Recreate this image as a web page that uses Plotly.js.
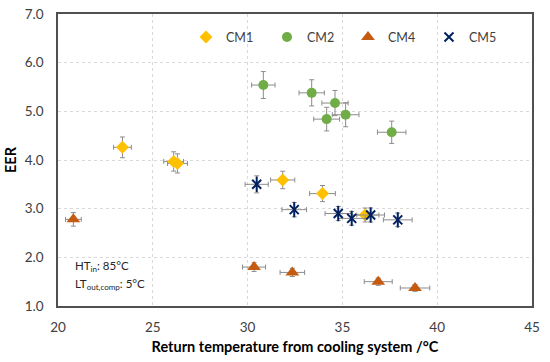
<!DOCTYPE html>
<html>
<head>
<meta charset="utf-8">
<script src="https://cdn.plot.ly/plotly-3.0.1.min.js"></script>
<style>html,body{margin:0;padding:0;background:#fff;}#chart{width:550px;height:362px;}</style>
</head>
<body>
<div id="chart"></div>
<script>
// Series: return temperature (°C) and EER
const cm1X = [23.4, 26.1, 26.3, 31.85, 33.95, 36.2];
const cm1Y = [4.26, 3.97, 3.93, 3.59, 3.31, 2.87];
const cm2X = [30.83, 33.38, 34.61, 34.17, 35.17, 37.6];
const cm2Y = [5.54, 5.38, 5.17, 4.84, 4.93, 4.57];
const cm4X = [20.81, 30.34, 32.36, 36.89, 38.83];
const cm4Y = [2.78, 1.80, 1.69, 1.50, 1.37];
const cm5X = [30.48, 32.46, 34.78, 35.49, 36.49, 37.92];
const cm5Y = [3.50, 2.98, 2.90, 2.80, 2.87, 2.77];
const seriesNames = ["CM1", "CM2", "CM4", "CM5"];
const xTicks = [20, 25, 30, 35, 40, 45];
const yTicks = [1, 2, 3, 4, 5, 6, 7];

const FONT = "Lato, 'Open Sans', sans-serif";
const errX = {type: "percent", value: 2, color: "#8c8c8c", thickness: 1, width: 2.5};
const errY = {type: "percent", value: 5, color: "#8c8c8c", thickness: 1, width: 2.5};

const traces = [
  {x: cm1X, y: cm1Y, name: seriesNames[0], type: "scatter", mode: "markers",
   marker: {symbol: "diamond", size: 10, color: "#FFC000"}, error_x: errX, error_y: errY},
  {x: cm2X, y: cm2Y, name: seriesNames[1], type: "scatter", mode: "markers",
   marker: {symbol: "circle", size: 10, color: "#70AD47"}, error_x: errX, error_y: errY},
  {x: cm4X, y: cm4Y, name: seriesNames[2], type: "scatter", mode: "markers",
   marker: {symbol: "triangle-up", size: 12, color: "#C55A11"}, error_x: errX, error_y: errY},
  {x: cm5X, y: cm5Y, name: seriesNames[3], type: "scatter", mode: "markers",
   marker: {symbol: "x-thin-open", size: 9, color: "#002060", line: {width: 2, color: "#002060"}},
   error_x: errX, error_y: errY},
  {x: cm5X, y: cm5Y, name: seriesNames[3], type: "scatter", mode: "markers", showlegend: false, hoverinfo: "skip",
   marker: {symbol: "line-ns-open", size: 11, color: "#002060", line: {width: 2, color: "#002060"}}}
];

const layout = {
  width: 550, height: 362,
  margin: {l: 58, r: 18, t: 14, b: 56},
  paper_bgcolor: "#ffffff", plot_bgcolor: "#ffffff",
  font: {family: FONT, size: 13, color: "#404040"},
  showlegend: true,
  legend: {orientation: "h", x: 0.27, xanchor: "left", y: 0.92, yanchor: "middle",
           bgcolor: "rgba(0,0,0,0)", font: {family: FONT, size: 12.5, color: "#404040"},
           entrywidth: 36, itemwidth: 30, tracegroupgap: 0},
  xaxis: {range: [20, 45], tickvals: xTicks, ticktext: xTicks.map(String),
          showgrid: true, gridcolor: "#d9d9d9", griddash: "dot", gridwidth: 1,
          zeroline: false, showline: true, mirror: true, linecolor: "#505050", linewidth: 1.8,
          ticks: "", ticklabelstandoff: 8, tickfont: {family: FONT, size: 13.5, color: "#404040"},
          title: {text: "Return temperature from cooling system /°C", standoff: 8,
                  font: {family: FONT, size: 14.5, color: "#000000", weight: "bold"}}},
  yaxis: {range: [1, 7], tickvals: yTicks, ticktext: yTicks.map(v => v.toFixed(1)),
          showgrid: true, gridcolor: "#d9d9d9", griddash: "dot", gridwidth: 1,
          zeroline: false, showline: true, mirror: true, linecolor: "#505050", linewidth: 1.8,
          ticks: "", ticklabelstandoff: 10, tickfont: {family: FONT, size: 13.5, color: "#404040"},
          title: {text: "EER", standoff: 4,
                  font: {family: FONT, size: 14.5, color: "#000000", weight: "bold"}}},
  annotations: [
    {xref: "paper", yref: "paper", x: 0.032, y: 0.135, xanchor: "left", yanchor: "middle", showarrow: false,
     text: "HT<sub>in</sub>: 85°C", font: {family: FONT, size: 11.5, color: "#262626"}},
    {xref: "paper", yref: "paper", x: 0.032, y: 0.075, xanchor: "left", yanchor: "middle", showarrow: false,
     text: "LT<sub>out,comp</sub>: 5°C", font: {family: FONT, size: 11.5, color: "#262626"}}
  ]
};

Plotly.newPlot("chart", traces, layout, {displayModeBar: false, staticPlot: true});
</script>
</body>
</html>
